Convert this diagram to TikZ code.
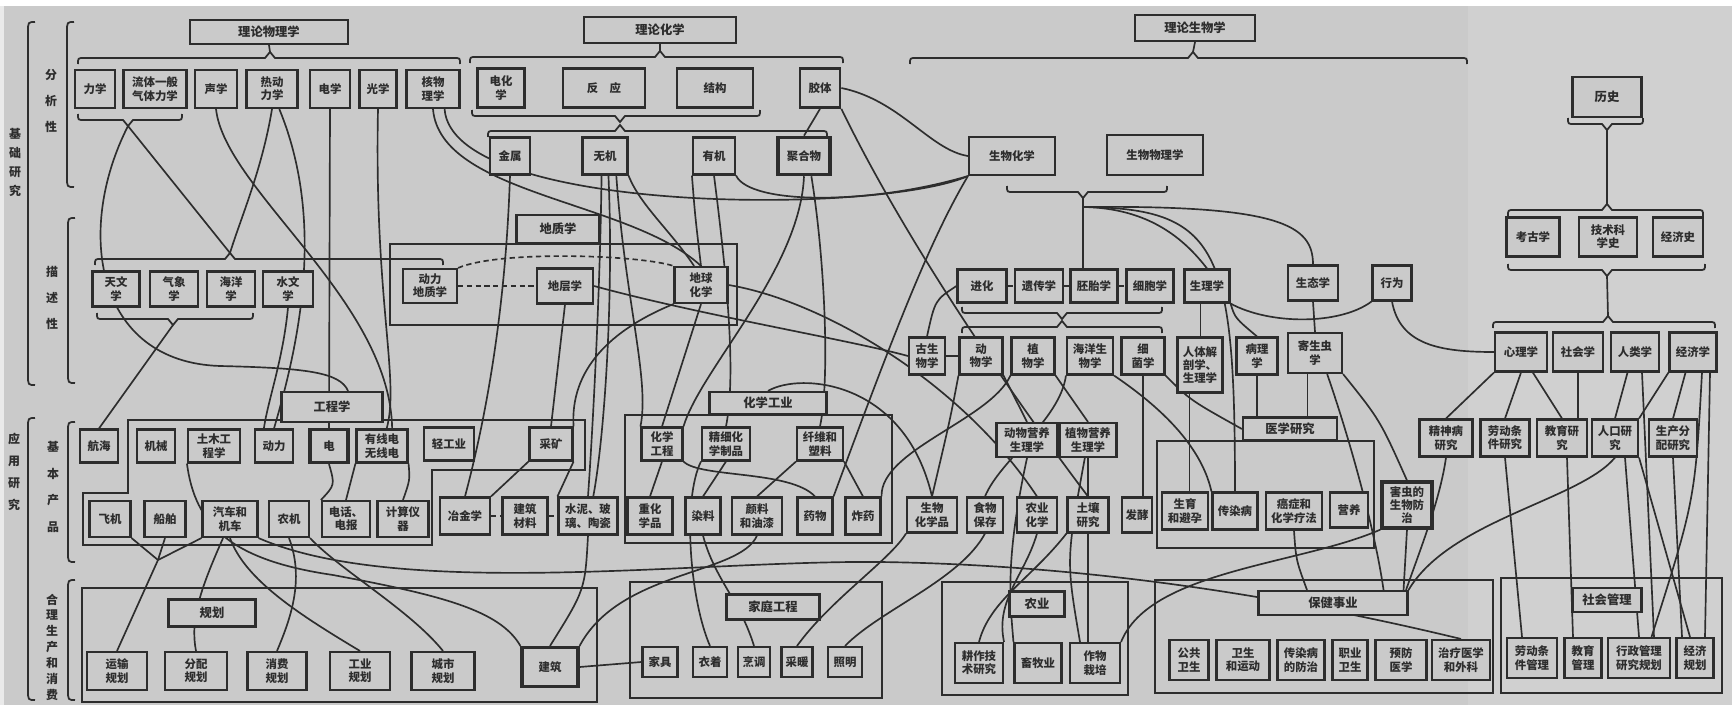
\documentclass[tikz,border=0pt]{standalone}
\usepackage{fontspec}
\setmainfont{Noto Sans CJK SC}
\usetikzlibrary{positioning}
\definecolor{paper}{RGB}{202,202,202}
\definecolor{paperb}{RGB}{208,208,208}
\definecolor{ink}{RGB}{45,45,45}
\pgfdeclarelayer{bg}
\pgfsetlayers{bg,main}

% braces: x1, x2, tip x, y
\newcommand{\upbrc}[4]{\draw[brc] (#1,#4+6) .. controls (#1,#4) .. (#1+6,#4) -- (#3-5,#4) -- (#3,#4-6) -- (#3+5,#4) -- (#2-6,#4) .. controls (#2,#4) .. (#2,#4+6);}
\newcommand{\dnbrc}[4]{\draw[brc] (#1,#4-6) .. controls (#1,#4) .. (#1+6,#4) -- (#3-5,#4) -- (#3,#4+6) -- (#3+5,#4) -- (#2-6,#4) .. controls (#2,#4) .. (#2,#4-6);}
% side bracket: x, y1, y2
\newcommand{\vbrk}[3]{\draw[brc] (#1+7,#2) .. controls (#1,#2) .. (#1,#2+10) -- (#1,#3-10) .. controls (#1,#3) .. (#1+7,#3);}

\begin{document}
\begin{tikzpicture}[x=0.2mm, y=-0.2mm,
  box/.style={draw=ink, line width=1.2pt, fill=paper, align=center, inner sep=1pt,
              text=ink, font=\fontsize{6.5}{7.6}\selectfont\bfseries},
  hbox/.style={box, font=\fontsize{7}{8}\selectfont\bfseries},
  sz/.style 2 args={minimum width=#1*0.2mm, minimum height=#2*0.2mm},
  grp/.style={draw=ink, line width=1.1pt},
  ln/.style={draw=ink, line width=0.95pt},
  dsh/.style={ln, dash pattern=on 3pt off 2pt},
  brc/.style={draw=ink, line width=1pt},
  lbl/.style={align=center, text=ink, inner sep=0pt, font=\fontsize{6.8}{#1}\selectfont\bfseries}
]
\useasboundingbox (0,0) rectangle (1732,705);
\begin{pgfonlayer}{bg}
\fill[paper] (0,0) rectangle (1732,705);
\fill[paperb] (1468,6) rectangle (1732,705);
\fill[white] (0,0) rectangle (1732,6);
\fill[paper!40!white] (0,6) rectangle (4,705);
\end{pgfonlayer}

% side labels
\node[lbl=10.8] (jcyj) at (15,162) {基\\础\\研\\究};
\node[lbl=14.7] (fxx) at (51,101) {分\\析\\性};
\node[lbl=14.7] (msx) at (52,298) {描\\述\\性};
\node[lbl=12.5] (yyyj) at (14,472) {应\\用\\研\\究};
\node[lbl=15.3] (jbcp) at (53,487) {基\\本\\产\\品};
\node[lbl=9] (hlsc) at (52,647) {合\\理\\生\\产\\和\\消\\费};
\vbrk{28}{22}{385}
\vbrk{67}{22}{187}
\vbrk{68}{218}{383}
\vbrk{28}{418}{700}
\vbrk{68}{422}{562}
\vbrk{68}{580}{700}

% theory headers
\node[hbox, sz={158}{24}] (wlx) at (269,32) {理论物理学};
\node[hbox, sz={152}{26}] (lhx) at (660,30) {理论化学};
\node[hbox, sz={120}{26}] (lsw) at (1195,28) {理论生物学};
\node[hbox, sz={69}{40}] (lsh) at (1607,97) {历史};

% physics
\node[box, sz={40}{38}] (lx) at (95,89) {力学};
\node[box, sz={63}{38}] (lt) at (155,89) {流体一般\\气体力学};
\node[box, sz={42}{38}] (sx) at (216,89) {声学};
\node[box, sz={51}{38}] (rdx) at (272,89) {热动\\力学};
\node[box, sz={40}{38}] (dxe) at (330,89) {电学};
\node[box, sz={37}{38}] (gx) at (378,89) {光学};
\node[box, sz={53}{38}] (hwl) at (433,89) {核物\\理学};

% chemistry
\node[box, sz={47}{39}] (dhx) at (501,88) {电化\\学};
\node[box, sz={82}{39}] (fy) at (604,88) {反\quad 应};
\node[box, sz={76}{39}] (jg) at (715,88) {结构};
\node[box, sz={40}{39}, line width=1.6pt] (jt) at (820,88) {胶体};
\node[box, sz={40}{37}] (js) at (510,156) {金属};
\node[box, sz={45}{37}] (wj) at (605,156) {无机};
\node[box, sz={42}{37}] (yj) at (714,156) {有机};
\node[box, sz={52}{37}, line width=2pt] (jhw) at (804,156) {聚合物};

% biology
\node[box, sz={86}{38}] (shh) at (1012,156) {生物化学};
\node[box, sz={96}{40}] (swwl) at (1155,155) {生物物理学};
\node[box, sz={49}{33}] (jh) at (982,286) {进化};
\node[box, sz={48}{33}] (yc) at (1039,286) {遗传学};
\node[box, sz={47}{33}] (pt) at (1094,286) {胚胎学};
\node[box, sz={47}{33}] (xb) at (1150,286) {细胞学};
\node[box, sz={45}{33}] (sl) at (1207,286) {生理学};
\node[box, sz={50}{35}] (st) at (1313,283) {生态学};
\node[box, sz={39}{35}] (xw) at (1392,283) {行为};
\node[box, sz={36}{37}] (gsw) at (927,356) {古生\\物学};
\node[box, sz={43}{37}] (dw) at (981,356) {动\\物学};
\node[box, sz={43}{37}] (zw) at (1033,356) {植\\物学};
\node[box, sz={46}{37}] (hysw) at (1090,356) {海洋生\\物学};
\node[box, sz={43}{37}] (xj) at (1143,356) {细\\菌学};
\node[box, sz={45}{55}] (rt) at (1200,365) {人体解\\剖学、\\生理学};
\node[box, sz={41}{37}] (bl) at (1257,356) {病理\\学};
\node[box, sz={54}{40}] (jsc) at (1315,353) {寄生虫\\学};
\node[box, sz={61}{34}] (dwyy) at (1027,440) {动物营养\\生理学};
\node[box, sz={57}{34}] (zwyy) at (1088,440) {植物营养\\生理学};

% medical research
\node[hbox, sz={94}{23}] (yxyj) at (1290,429) {医学研究};
\node[box, sz={46}{37}] (sy) at (1185,511) {生育\\和避孕};
\node[box, sz={45}{37}] (crb) at (1235,511) {传染病};
\node[box, sz={56}{37}] (az) at (1294,511) {癌症和\\化学疗法};
\node[box, sz={38}{35}] (yy) at (1349,510) {营养};
\node[box, sz={50}{46}, line width=1.8pt] (hc) at (1407,505) {害虫的\\生物防\\治};

% history and social sciences
\node[box, sz={53}{39}] (kgx) at (1533,237) {考古学};
\node[box, sz={58}{39}] (jskx) at (1608,237) {技术科\\学史};
\node[box, sz={50}{39}] (jjs) at (1678,237) {经济史};
\node[box, sz={52}{39}] (xlx) at (1521,352) {心理学};
\node[box, sz={50}{39}] (shx) at (1578,352) {社会学};
\node[box, sz={48}{39}] (rlx) at (1635,352) {人类学};
\node[box, sz={47}{39}] (jjx) at (1693,352) {经济学};
\node[box, sz={53}{37}] (jsb) at (1446,438) {精神病\\研究};
\node[box, sz={49}{37}] (ldyj) at (1505,438) {劳动条\\件研究};
\node[box, sz={50}{37}] (jyyj) at (1562,438) {教育研\\究};
\node[box, sz={46}{37}] (rkyj) at (1615,438) {人口研\\究};
\node[box, sz={48}{37}] (scfp) at (1673,438) {生产分\\配研究};

% descriptive
\node[box, sz={47}{35}] (twx) at (116,289) {天文\\学};
\node[box, sz={48}{35}] (qxx) at (174,289) {气象\\学};
\node[box, sz={48}{35}] (hyx) at (231,289) {海洋\\学};
\node[box, sz={50}{35}] (swx) at (288,289) {水文\\学};

% geology
\node[hbox, sz={83}{28}] (dzx) at (558,229) {地质学};
\node[box, sz={54}{34}] (dldz) at (430,286) {动力\\地质学};
\node[box, sz={56}{35}] (dcx) at (565,286) {地层学};
\node[box, sz={53}{36}] (dqhx) at (701,285) {地球\\化学};

% engineering
\node[hbox, sz={101}{30}] (gcx) at (332,407) {工程学};
\node[box, sz={38}{33}] (hh) at (99,446) {航海};
\node[box, sz={38}{33}] (jx) at (156,446) {机械};
\node[box, sz={52}{33}] (tm) at (214,446) {土木工\\程学};
\node[box, sz={38}{33}] (dl) at (274,446) {动力};
\node[box, sz={38}{33}, line width=1.8pt] (dian) at (329,446) {电};
\node[box, sz={51}{33}] (yxd) at (382,446) {有线电\\无线电};
\node[box, sz={50}{33}] (qgy) at (449,444) {轻工业};
\node[box, sz={43}{33}] (ck) at (551,444) {采矿};
\node[box, sz={41}{36}] (fj) at (110,519) {飞机};
\node[box, sz={41}{36}] (cb) at (165,519) {船舶};
\node[box, sz={55}{36}] (qc) at (230,519) {汽车和\\机车};
\node[box, sz={40}{36}] (nj) at (289,519) {农机};
\node[box, sz={48}{36}] (dhdb) at (346,519) {电话、\\电报};
\node[box, sz={51}{36}] (jsyq) at (403,519) {计算仪\\器};
\node[box, sz={50}{37}] (yjx) at (465,516) {冶金学};
\node[box, sz={45}{37}] (jzcl) at (525,516) {建筑\\材料};
\node[box, sz={59}{37}] (sn) at (588,516) {水泥、玻\\璃、陶瓷};

% chemical industry
\node[hbox, sz={117}{22}] (hxgy) at (768,403) {化学工业};
\node[box, sz={41}{33}] (hxgc) at (662,444) {化学\\工程};
\node[box, sz={48}{33}] (jxhx) at (726,444) {精细化\\学制品};
\node[box, sz={46}{33}] (xwsl) at (820,444) {纤维和\\塑料};
\node[box, sz={45}{37}] (zhx) at (650,516) {重化\\学品};
\node[box, sz={35}{37}] (rl) at (703,516) {染料};
\node[box, sz={50}{37}] (yl) at (757,516) {颜料\\和油漆};
\node[box, sz={35}{37}] (yw) at (815,516) {药物};
\node[box, sz={35}{37}] (zy) at (863,516) {炸药};
\node[box, sz={50}{35}] (swhx) at (932,515) {生物\\化学品};
\node[box, sz={36}{35}] (swbc) at (985,515) {食物\\保存};
\node[box, sz={40}{35}] (nyhx) at (1037,515) {农业\\化学};
\node[box, sz={41}{35}] (trys) at (1088,515) {土壤\\研究};
\node[box, sz={30}{35}] (fjiao) at (1137,515) {发酵};

% planning
\node[hbox, sz={87}{27}] (gh) at (212,613) {规划};
\node[box, sz={60}{38}] (ysgh) at (117,671) {运输\\规划};
\node[box, sz={62}{38}] (fpgh) at (196,671) {分配\\规划};
\node[box, sz={59}{38}] (xfgh) at (277,671) {消费\\规划};
\node[box, sz={60}{38}] (gygh) at (360,671) {工业\\规划};
\node[box, sz={63}{38}] (csgh) at (443,671) {城市\\规划};
\node[box, sz={56}{39}, line width=1.8pt] (jz) at (550,667) {建筑};

% domestic engineering
\node[hbox, sz={93}{25}] (jtgc) at (773,607) {家庭工程};
\node[box, sz={35}{30}] (jj) at (660,662) {家具};
\node[box, sz={34}{30}] (yz) at (710,662) {衣着};
\node[box, sz={32}{30}] (pengt) at (754,662) {烹调};
\node[box, sz={31}{30}] (cn) at (797,662) {采暖};
\node[box, sz={34}{30}] (zm) at (845,662) {照明};

% agriculture
\node[hbox, sz={55}{25}] (ny) at (1037,604) {农业};
\node[box, sz={48}{40}] (gzjs) at (979,663) {耕作技\\术研究};
\node[box, sz={47}{40}] (xmy) at (1038,663) {畜牧业};
\node[box, sz={50}{40}] (zwzp) at (1095,663) {作物\\栽培};

% health
\node[hbox, sz={149}{24}] (bjsy) at (1333,603) {保健事业};
\node[box, sz={39}{40}] (ggws) at (1189,660) {公共\\卫生};
\node[box, sz={53}{40}] (wsyd) at (1243,660) {卫生\\和运动};
\node[box, sz={47}{40}] (crfz) at (1301,660) {传染病\\的防治};
\node[box, sz={35}{40}] (zyws) at (1350,660) {职业\\卫生};
\node[box, sz={51}{40}] (yfyx) at (1401,660) {预防\\医学};
\node[box, sz={58}{40}] (zlyx) at (1461,660) {治疗医学\\和外科};

% social administration
\node[hbox, sz={69}{24}] (shgl) at (1607,600) {社会管理};
\node[box, sz={50}{40}] (ldgl) at (1532,658) {劳动条\\件管理};
\node[box, sz={37}{40}] (jygl) at (1583,658) {教育\\管理};
\node[box, sz={62}{40}] (xzgl) at (1639,658) {行政管理\\研究规划};
\node[box, sz={37}{40}] (jjgh) at (1695,658) {经济\\规划};

% brace tips
\coordinate (tWL) at (270,52);
\coordinate (tHX) at (660,51);
\coordinate (tSW) at (1193,52);
\coordinate (tLX) at (128,126);
\coordinate (tMSu) at (230,253);
\coordinate (tMSd) at (173,325);
\coordinate (tSH) at (1083,198);
\coordinate (tSH2) at (1083,207);
\coordinate (tLS) at (1607,130);
\coordinate (tKGu) at (1607,204);
\coordinate (tKGd) at (1607,276);
\coordinate (tSHX) at (1608,316);
\coordinate (cV) at (158,560);

\upbrc{78}{460}{270}{58}
\upbrc{470}{843}{660}{57}
\upbrc{910}{1467}{1193}{58}
\dnbrc{78}{182}{128}{120}
\dnbrc{472}{760}{620}{116}
\upbrc{488}{827}{620}{131}
\dnbrc{1007}{1167}{1083}{192}
\dnbrc{1568}{1643}{1607}{124}
\upbrc{1508}{1703}{1607}{210}
\dnbrc{1508}{1705}{1607}{270}
\upbrc{1493}{1715}{1608}{322}
\upbrc{95}{443}{230}{259}
\dnbrc{97}{253}{173}{319}
\dnbrc{962}{1162}{1062}{313}
\upbrc{962}{1162}{1062}{327}

\begin{pgfonlayer}{bg}
% group frames
\draw[grp] (390,244) rectangle (737,325);
\draw[grp] (128,420) -- (585,420) -- (585,470) -- (432,470) -- (432,545) -- (83,545) -- (83,493) -- (128,493) -- cycle;
\draw[grp] (625,415) rectangle (892,543);
\draw[grp] (1157,441) rectangle (1374,548);
\draw[grp] (82,588) rectangle (597,702);
\draw[grp] (630,582) rectangle (882,698);
\draw[grp] (942,582) rectangle (1128,695);
\draw[grp] (1155,580) rectangle (1493,693);
\draw[grp] (1501,578) rectangle (1722,693);

% stems
\draw[ln] (tWL) -- (wlx.south);
\draw[ln] (tHX) -- (lhx.south);
\draw[ln] (tSW) -- (lsw.south);
\draw[ln] (tLS) -- (tKGu);
\draw[ln] (tKGd) -- (tSHX);

% physics
\draw[ln] (tLX) .. controls (75,230) and (95,362) .. (220,366) .. controls (305,368) and (340,372) .. (gcx.45);
\draw[ln] (tLX) -- (tMSu);
\draw[ln] (rdx.south) .. controls (262,170) and (240,220) .. (tMSu);
\draw[ln] (rdx.290) .. controls (325,220) and (300,340) .. (dl.north);
\draw[ln] (swx.south) .. controls (283,360) and (268,400) .. (dl.120);
\draw[ln] (tMSd) -- (hh.north);
\draw[ln] (dxe.south) -- (dian.north);
\draw[ln] (sx.south) .. controls (225,190) and (390,300) .. (yxd.60);
\draw[ln] (gx.south) .. controls (374,300) and (400,380) .. (yxd.75);
\draw[ln] (hwl.south) .. controls (440,195) and (630,200) .. (dqhx.north);
\draw[ln] (hwl.300) .. controls (452,215) and (880,215) .. (shh.south west);

% chemistry
\draw[ln] (jt.south) -- (jhw.north);
\draw[ln] (jt.east) .. controls (900,100) and (930,150) .. (shh.west);
\draw[ln] (jt.south east) .. controls (900,230) and (1000,380) .. (trys.north);
\draw[ln] (js.south) .. controls (505,330) and (480,440) .. (yjx.north);
\draw[ln] (wj.260) .. controls (600,300) and (592,440) .. (sn.north);
\draw[ln] (wj.280) .. controls (614,300) and (604,440) .. (sn.75);
\draw[ln] (wj.south east) .. controls (640,205) and (670,230) .. (dqhx.110);
\draw[ln] (wj.300) .. controls (625,300) and (650,380) .. (hxgc.north west);
\draw[ln] (yj.south west) .. controls (695,215) .. (dqhx.north);
\draw[ln] (yj.south east) .. controls (750,205) and (870,205) .. (shh.south west);
\draw[ln] (yj.south) .. controls (730,300) and (735,380) .. (jxhx.north);
\draw[ln] (jhw.south) .. controls (800,270) and (700,370) .. (hxgc.north east);
\draw[ln] (jhw.290) .. controls (825,260) and (830,380) .. (xwsl.north);
\draw[ln] (hxgc.south) -- (zhx.north);
\draw[ln] (jxhx.south) -- (rl.north);
\draw[ln] (hxgc.south east) .. controls (700,478) and (790,470) .. (yw.north);
\draw[ln] (xwsl.south west) -- (yl.north);
\draw[ln] (xwsl.south east) -- (zy.north);
\draw[ln] (hxgy.north) .. controls (800,372) and (905,380) .. (swhx.north);

% geology and mining
\draw[dsh] (dldz.east) -- (dcx.west);
\draw[dsh] (dldz.north east) .. controls (500,250) and (640,255) .. (dqhx.north west);
\draw[ln] (dcx.south) -- (ck.north);
\draw[ln] (dqhx.south west) .. controls (610,330) and (570,370) .. (ck.north east);
\draw[ln] (dqhx.south) -- (hxgc.north);
\draw[ln] (dcx.east) .. controls (700,315) and (850,340) .. (gsw.west);
\draw[ln] (dqhx.east) .. controls (820,300) and (960,380) .. (nyhx.north);
\draw[ln] (ck.south west) -- (yjx.north east);
\draw[ln] (ck.south east) -- (sn.north west);
\draw[dsh] (yjx.east) -- (jzcl.west);
\draw[dsh] (jzcl.east) -- (sn.west);

% engineering and planning
\draw[ln] (yxd.south west) -- (dhdb.north);
\draw[ln] (yxd.south east) .. controls (410,480) .. (jsyq.north);
\draw[ln] (dian.south) .. controls (335,485) .. (dhdb.north west);
\draw[ln] (fj.south east) -- (cV);
\draw[ln] (cb.south) -- (cV);
\draw[ln] (qc.south west) -- (cV);
\draw[ln] (cV) -- (ysgh.north);
\draw[ln] (qc.250) .. controls (200,590) and (190,620) .. (fpgh.north);
\draw[ln] (qc.south) .. controls (245,580) and (300,615) .. (gygh.north);
\draw[ln] (nj.south) .. controls (305,580) and (290,620) .. (xfgh.north);
\draw[ln] (nj.south east) .. controls (340,570) and (410,610) .. (csgh.north);
\draw[ln] (tm.south west) .. controls (195,525) and (230,560) .. (333,575) .. controls (440,595) and (500,610) .. (jz.north west);
\draw[ln] (sn.south) .. controls (585,590) .. (jz.north);
\draw[ln] (yl.south) .. controls (740,575) and (620,570) .. (jz.north east);
\draw[ln] (jz.east) -- (jj.west);
\draw[ln] (qc.south east) .. controls (400,600) and (700,560) .. (880,562) .. controls (1100,565) and (1300,600) .. (zlyx.north);

% domestic engineering
\draw[ln] (jxhx.south west) .. controls (682,500) and (690,600) .. (yz.north);
\draw[ln] (rl.south) .. controls (715,580) and (740,600) .. (pengt.north);
\draw[ln] (swhx.south west) .. controls (890,560) and (830,600) .. (cn.north);
\draw[ln] (swbc.south) .. controls (960,580) and (880,610) .. (zm.north);

% agriculture
\draw[ln] (nyhx.south) .. controls (1025,575) and (995,600) .. (gzjs.north east);
\draw[ln] (trys.south west) .. controls (1030,580) and (990,600) .. (gzjs.north);
\draw[ln] (dwyy.south) .. controls (1005,560) and (1010,600) .. (xmy.north west);
\draw[ln] (zwyy.260) .. controls (1066,560) .. ([xshift=-3mm]zwzp.north);
\draw[ln] (zwyy.south) -- (zwyy.south |- zwzp.north);
\draw[ln] (hc.south west) .. controls (1300,565) and (1150,570) .. (zwzp.north east);

% biology
\draw[ln] (gsw.north) .. controls (935,300) .. (jh.west);
\draw[ln] (gsw.east) -- (dw.west);
\draw[dsh] (jh.east) -- (yc.west);
\draw[dsh] (yc.east) -- (pt.west);
\draw[dsh] (pt.east) -- (xb.west);
\draw[ln] (tSH) -- (tSH |- pt.north);
\draw[ln] (tSH2) .. controls (1150,208) and (1185,240) .. (sl.north);
\draw[ln] (tSH2) .. controls (1220,208) and (1235,250) .. (crb.north);
\draw[ln] (tSH2) .. controls (1280,205) and (1313,225) .. (st.north);
\draw[ln] (sl.250) -- (sl.250 |- rt.north);
\draw[ln] (sl.south east) .. controls (1235,318) .. (bl.north);
\draw[ln] (sl.south east) .. controls (1270,325) and (1340,325) .. (xw.south west);
\draw[ln] (st.south) -- (jsc.north);
\draw[ln] (jsc.250) -- (jsc.250 |- yxyj.north);
\draw[ln] (bl.south) -- (bl.south |- yxyj.north);
\draw[ln] (xw.south) .. controls (1400,345) and (1440,352) .. (xlx.west);
\draw[ln] (dw.south east) -- (dwyy.north);
\draw[ln] (zw.south east) -- (zwyy.north);
\draw[ln] (hysw.south east) .. controls (1150,400) and (1200,440) .. (crb.north west);
\draw[ln] (hysw.south west) .. controls (1060,420) and (1000,460) .. (swbc.north);
\draw[ln] (xj.south) -- (xj.south |- fjiao.north);
\draw[ln] (xj.south east) .. controls (1190,400) .. (yxyj.west);
\draw[ln] (rt.250) -- (rt.250 |- sy.north);
\draw[ln] (zw.south west) .. controls (990,420) and (880,450) .. (zy.north east);
\draw[ln] (dw.south west) .. controls (950,420) .. (swhx.north);
\draw[ln] (shh.south west) .. controls (930,240) and (895,330) .. (yw.north east);
\draw[ln] (jsc.south east) .. controls (1380,420) .. (hc.north);
\draw[ln] (jsc.300) .. controls (1350,440) and (1375,530) .. ([xshift=-5mm]bjsy.north east);
\draw[ln] (hc.south) .. controls (1405,560) .. ([xshift=-1mm]bjsy.north east);
\draw[ln] (az.south) .. controls (1296,560) .. ([xshift=-5.2mm]bjsy.north);
\draw[ln] (jsb.south) .. controls (1440,500) and (1420,550) .. ([xshift=-0.5mm]bjsy.north east);
\draw[ln] (rkyj.south) .. controls (1580,500) and (1450,520) .. (bjsy.north east);

% social sciences
\draw[ln] (xlx.south west) -- (jsb.north);
\draw[ln] (xlx.south) -- (ldyj.north);
\draw[ln] (xlx.300) -- (jyyj.north);
\draw[ln] (shx.south) -- (shx.south |- jyyj.north);
\draw[ln] (rlx.250) -- (rkyj.north);
\draw[ln] ([xshift=1.4mm]rlx.south) -- ([xshift=3mm]xzgl.north);
\draw[ln] (jjx.south west) -- (rkyj.north east);
\draw[ln] (jjx.250) -- (scfp.north);
\draw[ln] ([xshift=1.8mm]jjx.south) .. controls (1695,500) .. ([xshift=2.5mm]xzgl.north);
\draw[ln] ([xshift=3.4mm]jjx.south) -- ([xshift=2mm]jjgh.north);
\draw[ln] (ldyj.south) -- ([xshift=-2mm]ldgl.north);
\draw[ln] ([xshift=1mm]jyyj.south) -- ([xshift=-2mm]jygl.north);
\draw[ln] ([xshift=2mm]rkyj.south) -- (xzgl.north);
\draw[ln] (rkyj.south east) -- ([xshift=-1mm]jjgh.north);
\draw[ln] (scfp.south) -- ([xshift=-2.6mm]jjgh.north);
\end{pgfonlayer}
\end{tikzpicture}
\end{document}
